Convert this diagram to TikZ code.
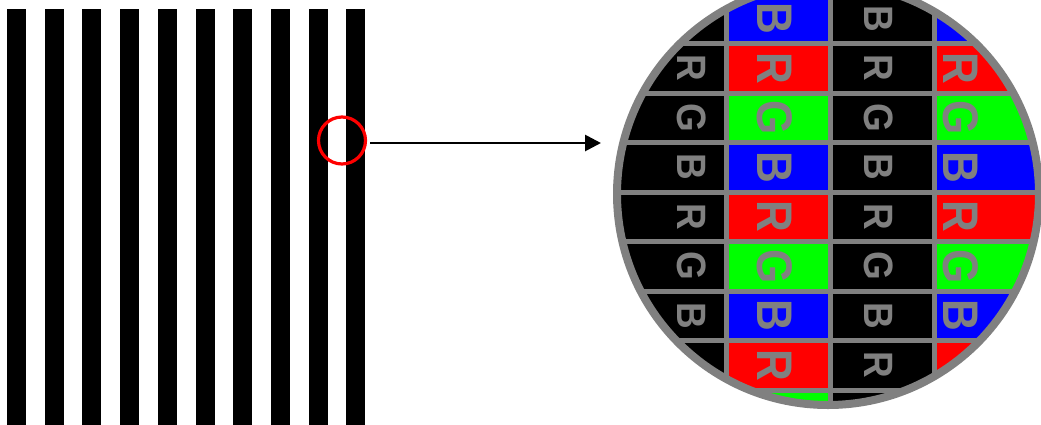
\documentclass[tikz,border=0pt]{standalone}
\usepackage{fontspec}
\setmainfont{Liberation Sans}
\usetikzlibrary{arrows.meta}
\definecolor{cellgray}{HTML}{808080}
\definecolor{pblue}{HTML}{0000FF}
\definecolor{pred}{HTML}{FF0000}
\definecolor{pgreen}{HTML}{00FF00}
\begin{document}
\begin{tikzpicture}[x=1pt,y=-1pt,
  stripe/.style={fill=black},
  lensring/.style={circle,draw=pred,line width=3.2pt,minimum size=47pt,inner sep=0pt},
  gridline/.style={draw=cellgray,line width=5pt},
  colletter/.style={rotate=-90,text=cellgray,inner sep=0pt,font=\bfseries\fontsize{50}{50}\selectfont},
  blkletter/.style={rotate=-90,text=cellgray,inner sep=0pt,font=\bfseries\fontsize{41}{41}\selectfont},
  pointer/.style={draw=black,line width=2.8pt,-{Triangle[length=16pt,width=16pt]}}]
\useasboundingbox (0,0) rectangle (1041,424);
% stripes
\foreach \i in {0,...,9}
  \fill[stripe] ({7+37.7*\i},9) rectangle ++(19,420);
% small red circle
\node[lensring] (zoom) at (342,140.5) {};
% arrow
\coordinate (tail) at (370,143);
\coordinate (tip) at (601,143);
\draw[pointer] (tail) -- (tip);
% magnified view
\begin{scope}
  \clip (828,194) circle[radius=211pt];
  \fill[black] (600,-30) rectangle (1045,430);
  \foreach \k/\col in {0/pblue,1/pred,2/pgreen,3/pblue,4/pred,5/pgreen,6/pblue,7/pred,8/pgreen}{
    \fill[\col] (726,{-6+49.5*\k}) rectangle ++(104,49.5);
    \fill[\col] (934,{-6+49.5*\k}) rectangle ++(104,49.5);
  }
  % letters in the outer columns (rows 1 to 6)
  \foreach \k/\ch in {1/R,2/G,3/B,4/R,5/G,6/B}{
    \node[blkletter] (l0\k) at (692,{18.75+49.5*\k}) {\scalebox{0.9}[1]{\ch}};
    \node[colletter] (l3\k) at (961,{18.75+49.5*\k}) {\scalebox{0.88}[1]{\ch}};
  }
  % letters in the middle columns (rows 0 to 7)
  \foreach \k/\ch in {0/B,1/R,2/G,3/B,4/R,5/G,6/B,7/R}{
    \node[colletter] (l1\k) at (775,{18.75+49.5*\k}) {\scalebox{0.88}[1]{\ch}};
    \node[blkletter] (l2\k) at (879,{18.75+49.5*\k}) {\scalebox{0.9}[1]{\ch}};
  }
  \foreach \x in {726,830,934}
    \draw[gridline] (\x,-30) -- (\x,430);
  \foreach \k in {0,...,9}
    \draw[gridline] (600,{-6+49.5*\k}) -- (1045,{-6+49.5*\k});
\end{scope}
\draw[cellgray,line width=8pt] (828,194) circle[radius=211pt];
\end{tikzpicture}
\end{document}
